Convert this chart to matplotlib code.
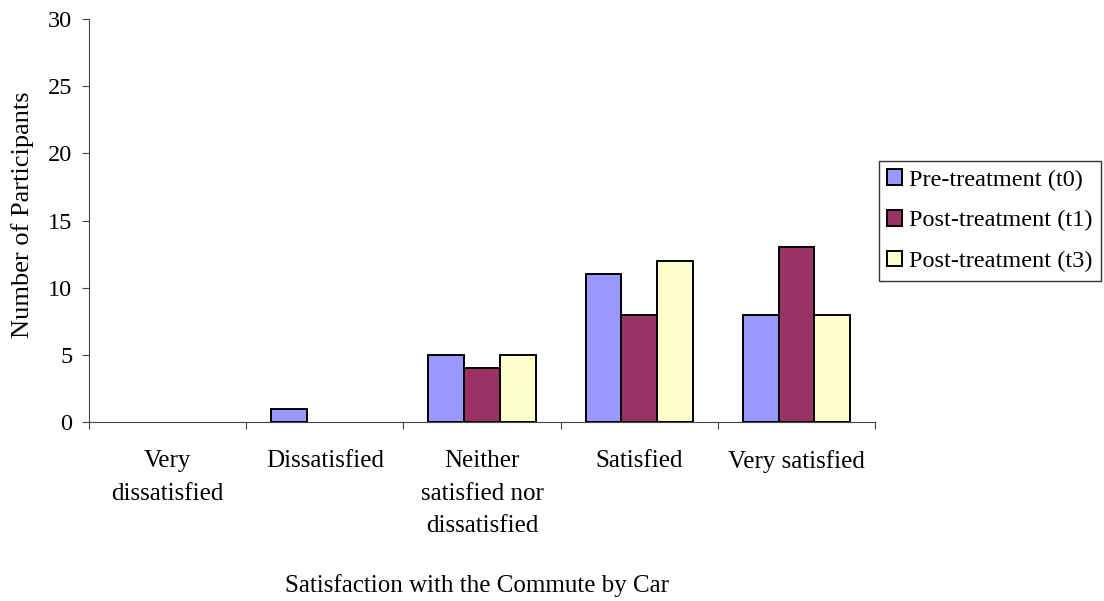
import numpy as np
import matplotlib.pyplot as plt
import matplotlib.transforms as mtransforms

plt.rcParams['font.family'] = ['Liberation Serif', 'DejaVu Serif']

categories = ['Very\ndissatisfied', 'Dissatisfied', 'Neither\nsatisfied nor\ndissatisfied',
              'Satisfied', 'Very satisfied']
series_names = ['Pre-treatment (t0)', 'Post-treatment (t1)', 'Post-treatment (t3)']
t0 = [0, 1, 5, 11, 8]
t1 = [0, 0, 4, 8, 13]
t3 = [0, 0, 5, 12, 8]
colors = ['#9999FF', '#993366', '#FFFFCC']

fig = plt.figure(figsize=(11.04, 6.01), dpi=100)
ax = fig.add_axes([0.0806, 0.2978, 0.712, 0.6705])

x = np.arange(len(categories))
w = 0.227
for i, (vals, name, c) in enumerate(zip([t0, t1, t3], series_names, colors)):
    # empty bars get no outline so the baseline stays thin
    lws = [1.4 if v > 0 else 0 for v in vals]
    ax.bar(x + (i - 1) * w, vals, w, color=c, edgecolor='black', linewidth=lws,
           label=name, zorder=3)

ax.set_xlim(-0.5, len(categories) - 0.5)
ax.set_ylim(0, 30)
ax.set_yticks(range(0, 31, 5))
ax.tick_params(axis='y', labelsize=17.5, length=5, pad=7, direction='out', color='#444444')
ax.set_xticks(np.arange(len(categories) + 1) - 0.5)
ax.set_xticklabels([])
ax.tick_params(axis='x', length=5, direction='out', color='#444444')

# category labels sit between the boundary ticks
trans = mtransforms.blended_transform_factory(ax.transData, ax.transAxes)
for xi, lab in zip(x, categories):
    ax.text(xi, -0.07, lab, transform=trans, ha='center', va='top', fontsize=18,
            linespacing=1.62)

ax.spines['top'].set_visible(False)
ax.spines['right'].set_visible(False)
for s in ['left', 'bottom']:
    ax.spines[s].set_color('#444444')

fig.text(0.02, 0.642, 'Number of Participants', rotation=90, ha='center', va='center',
         fontsize=19)
fig.text(0.432, 0.026, 'Satisfaction with the Commute by Car', ha='center', va='center',
         fontsize=18)

leg = fig.legend(loc='lower left', bbox_to_anchor=(0.796, 0.533), fontsize=17.5,
                 frameon=True, fancybox=False, edgecolor='black', handlelength=0.6,
                 handleheight=0.6, handletextpad=0.3, borderpad=0.35, labelspacing=0.8,
                 borderaxespad=0)
leg.get_frame().set_linewidth(1.0)
for h in leg.legend_handles:
    h.set_linewidth(1.4)

fig.savefig('out.png', dpi=100)
